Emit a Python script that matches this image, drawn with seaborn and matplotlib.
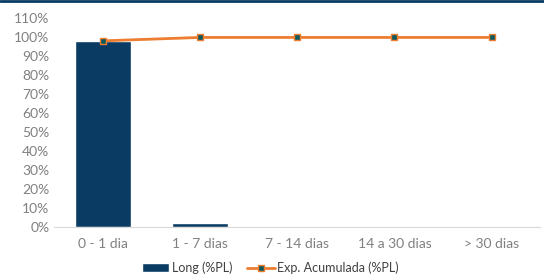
#Script for the exposure-by-tenor chart

import matplotlib
matplotlib.use("Agg")
import matplotlib.pyplot as plt
from matplotlib.ticker import PercentFormatter, MultipleLocator
import seaborn as sns

categories = ['0 - 1 dia', '1 - 7 dias', '7 - 14 dias', '14 a 30 dias', '> 30 dias']
long_pl = [98.2, 2.0, 0.0, 0.0, 0.0]
exp_acumulada = [98.2, 100.0, 100.0, 100.0, 100.0]

sns.set_style('white')
plt.rcParams['font.family'] = ['Lato', 'DejaVu Sans']

fig = plt.figure(figsize=(5.44, 2.76), dpi=100)
ax = fig.add_axes([0.1, 0.178, 0.893, 0.755])

#Bars
sns.barplot(x=categories, y=long_pl, color='#0a3b63', width=0.57,
            saturation=1, ax=ax, label='Long (%PL)')

#Cumulative line
sns.lineplot(x=list(range(len(categories))), y=exp_acumulada, color='#ed7d31',
             linewidth=2, marker='s', markersize=5, markerfacecolor='#0d5a5e',
             markeredgecolor='#ed7d31', markeredgewidth=1, ax=ax,
             label='Exp. Acumulada (%PL)')

ax.set_ylim(0, 110)
ax.set_xlim(-0.5, 4.5)
ax.yaxis.set_major_locator(MultipleLocator(10))
ax.yaxis.set_major_formatter(PercentFormatter(decimals=0))
ax.tick_params(axis='both', colors='#808080', labelsize=10, length=0)
ax.tick_params(axis='x', pad=8)
for s in ['top', 'right', 'left']:
    ax.spines[s].set_visible(False)
ax.spines['bottom'].set_color('#d9d9d9')
ax.set_xlabel('')
ax.set_ylabel('')

#Legend below, bars first
handles, labels = ax.get_legend_handles_labels()
order = [labels.index('Long (%PL)'), labels.index('Exp. Acumulada (%PL)')]
ax.get_legend().remove()
fig.legend([handles[i] for i in order], [labels[i] for i in order],
           loc='center', bbox_to_anchor=(0.497, 0.03), ncol=2, frameon=False,
           fontsize=9, handlelength=2.2, columnspacing=1.2, handletextpad=0.2,
           labelcolor='#404040')

#Dark top border
fig.add_artist(plt.Line2D([0, 1], [0.997, 0.997], color='#0a3b63', linewidth=2,
                          transform=fig.transFigure))

plt.savefig('out.png', dpi=100)
